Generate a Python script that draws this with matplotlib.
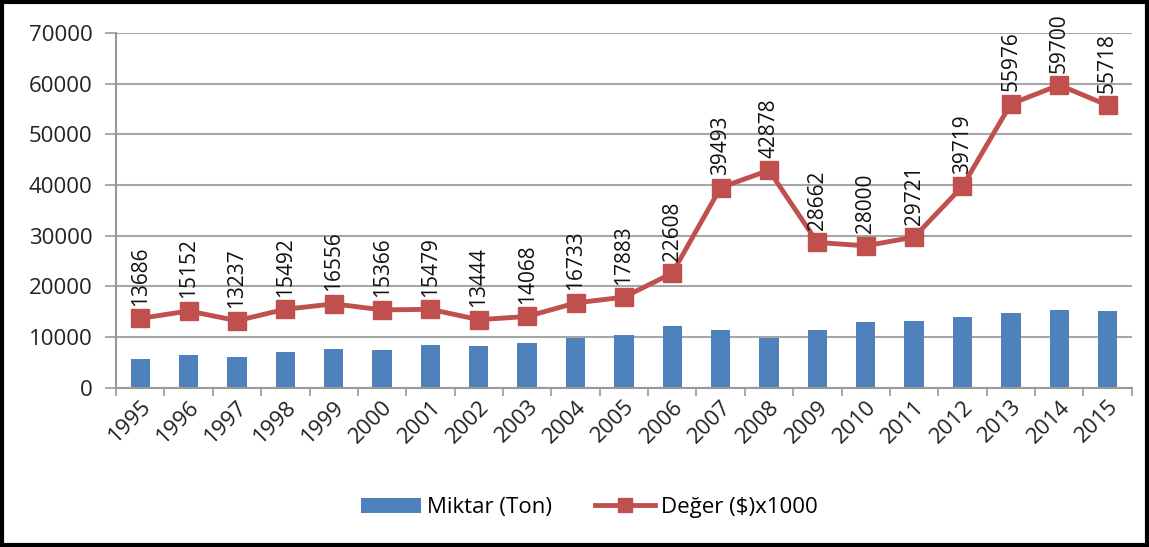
import matplotlib
matplotlib.use("Agg")
import matplotlib.pyplot as plt
from matplotlib.patches import Rectangle
import numpy as np

years = ["1995", "1996", "1997", "1998", "1999", "2000", "2001", "2002", "2003", "2004",
         "2005", "2006", "2007", "2008", "2009", "2010", "2011", "2012", "2013", "2014", "2015"]
miktar = [5650, 6500, 6040, 7090, 7620, 7420, 8460, 8330, 8800, 9900,
          10480, 12260, 11360, 9780, 11480, 13000, 13130, 13920, 14700, 15410, 15100]
deger = [13686, 15152, 13237, 15492, 16556, 15366, 15479, 13444, 14068, 16733,
         17883, 22608, 39493, 42878, 28662, 28000, 29721, 39719, 55976, 59700, 55718]
yticks = [0, 10000, 20000, 30000, 40000, 50000, 60000, 70000]

plt.rcParams['font.family'] = ['Open Sans', 'DejaVu Sans']

fig = plt.figure(figsize=(11.49, 5.47), dpi=100)
ax = fig.add_axes([0.101, 0.291, 0.884, 0.649])

x = np.arange(len(years))
bar_col = "#4F81BD"
line_col = "#C0504D"
bars = ax.bar(x, miktar, width=0.4, color=bar_col, zorder=2, label="Miktar (Ton)")
line, = ax.plot(x, deger, color=line_col, lw=3.5, marker="s", markersize=13,
                zorder=3, label="Değer ($)x1000")

for xi, v in zip(x, deger):
    ax.annotate(str(v), (xi, v), xytext=(0, 9), textcoords="offset points",
                rotation=90, ha="center", va="bottom", fontsize=15, color="#111111",
                zorder=4)

ax.set_xlim(-0.5, len(years) - 0.5)
ax.set_ylim(0, 70000)
ax.set_yticks(yticks)
ax.set_yticklabels([str(t) for t in yticks], fontsize=16, color="#222222")
ax.set_xticks(x)
ax.set_xticklabels(years, rotation=45, ha="right", rotation_mode="anchor", fontsize=16, color="#222222")
ax.tick_params(axis="x", length=0, pad=6)
ax.set_xticks(np.arange(-0.5, len(years)), minor=True)
ax.tick_params(axis="x", which="minor", length=6, color="#999999", width=1.2)
ax.tick_params(axis="y", length=8, color="#999999", width=1.2, pad=9)

ax.grid(axis="y", color="#A6A6A6", lw=1.5, zorder=0)
ax.set_axisbelow(True)
for s in ["top", "right"]:
    ax.spines[s].set_visible(False)
ax.spines["left"].set_color("#999999")
ax.spines["left"].set_linewidth(1.5)
ax.spines["bottom"].set_color("#999999")
ax.spines["bottom"].set_linewidth(1.5)

leg = fig.legend(handles=[bars, line], loc="center", bbox_to_anchor=(0.513, 0.072), ncol=2,
                 frameon=False, fontsize=16, handlelength=2.7, columnspacing=1.9,
                 handletextpad=0.3, markerscale=0.8)

fig.patches.append(Rectangle((0.002, 0.003), 0.996, 0.994, transform=fig.transFigure,
                             fill=False, edgecolor="black", lw=3))

fig.savefig("out.png", dpi=100)
